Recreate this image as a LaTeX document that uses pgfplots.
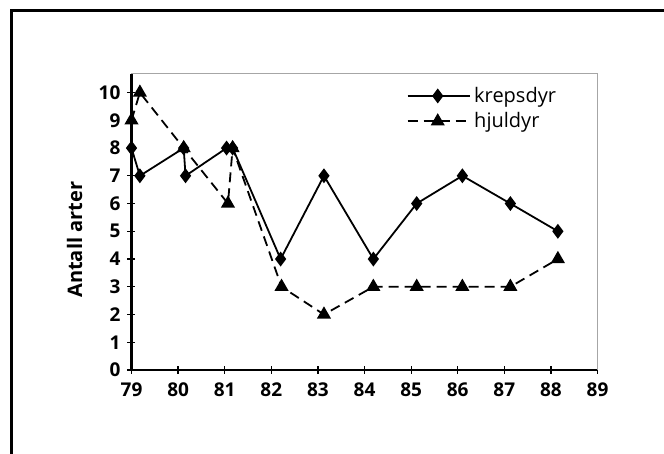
\documentclass[border=0pt]{standalone}
\usepackage{pgfplots}
\pgfplotsset{compat=1.18}
\usepackage{fontspec}
\setmainfont{Open Sans}
\begin{document}
\begin{tikzpicture}
\path[use as bounding box] (0,0) rectangle (332pt,227pt);
\draw[line width=1.5pt] (5.5pt,0) -- (5.5pt,221.75pt) -- (332pt,221.75pt);
\begin{axis}[
  at={(65.75pt,42pt)}, anchor=south west,
  scale only axis, width=233pt, height=148pt,
  xmin=79, xmax=89, ymin=0, ymax=10.67,
  axis x line*=bottom, axis y line*=left,
  axis line style={line width=1.1pt},
  x axis line style={-}, y axis line style={-},
  xtick={79,80,...,89}, ytick={0,1,...,10},
  tick align=center, major tick length=4pt,
  tick style={black, line width=0.6pt},
  /pgf/number format/assume math mode=true,
  ticklabel style={font=\bfseries\fontsize{9.5}{10}\selectfont},
  xticklabel style={yshift=-1pt},
  ylabel={Antall arter},
  ylabel style={font=\bfseries\fontsize{10}{12}\selectfont, at={(rel axis cs:0,0.44)}, rotate=0, anchor=south, xshift=0pt, yshift=21pt},
  legend style={at={(rel axis cs:0.59,0.97)}, anchor=north west, draw=none, fill=none,
    font=\fontsize{10}{11}\selectfont, row sep=0pt, inner sep=0pt,
    nodes={inner sep=1.8pt}},
  legend cell align=left,
  legend image code/.code={\draw[mark repeat=2,mark phase=2,#1] plot coordinates {(0pt,0pt) (15pt,0pt) (31pt,0pt)};},
  clip=false,
]
\draw[gray!70, line width=0.5pt] (rel axis cs:0,1) -- (rel axis cs:1,1) -- (rel axis cs:1,0);
\addplot[black, line width=0.9pt, mark=diamond*, mark size=3pt, mark options={solid}] coordinates {
 (79.0,8) (79.18,7) (80.12,8) (80.16,7) (81.04,8) (81.17,8) (82.2,4) (83.13,7)
 (84.19,4) (85.12,6) (86.1,7) (87.13,6) (88.15,5)};
\addlegendentry{krepsdyr}
\addplot[black, line width=0.9pt, dash pattern=on 5pt off 3pt, mark=triangle*, mark size=3.2pt, mark options={solid}] coordinates {
 (79.0,9) (79.18,10) (80.12,8) (81.07,6) (81.17,8) (82.22,3) (83.13,2)
 (84.19,3) (85.12,3) (86.1,3) (87.13,3) (88.15,4)};
\addlegendentry{hjuldyr}
\end{axis}
\end{tikzpicture}
\end{document}
